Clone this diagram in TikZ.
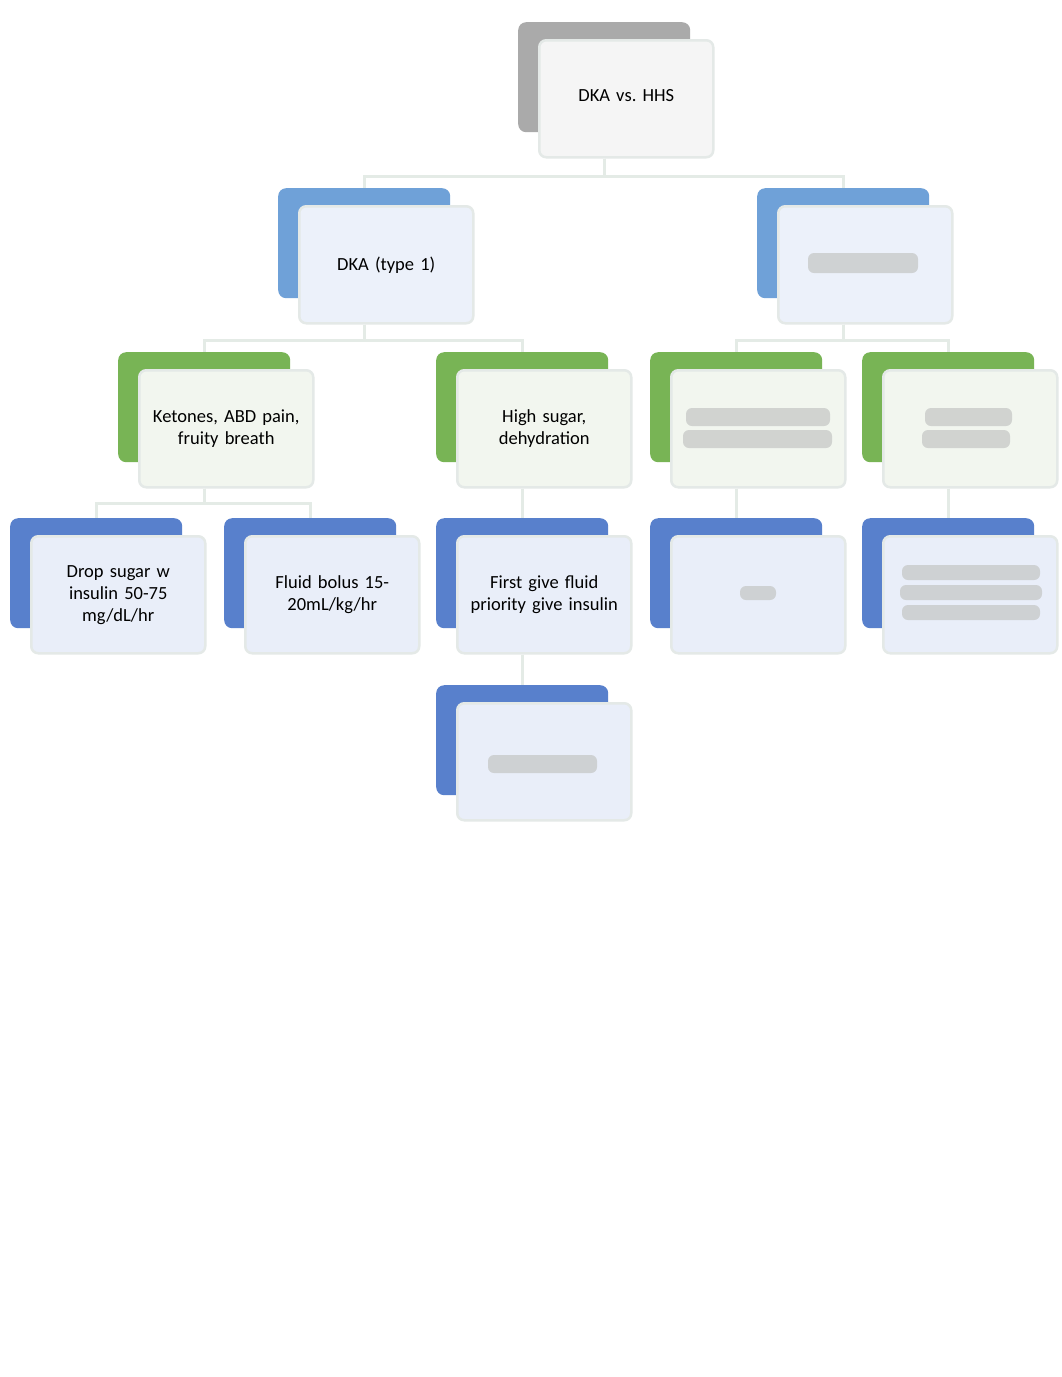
\documentclass[tikz,border=0pt]{standalone}
\usepackage{fontspec}
\setmainfont{Carlito}
\usetikzlibrary{calc}
\definecolor{greyback}{RGB}{170,170,170}
\definecolor{blueA}{RGB}{111,161,216}
\definecolor{blueB}{RGB}{88,128,204}
\definecolor{greenA}{RGB}{120,180,85}
\definecolor{fillgrey}{RGB}{245,245,245}
\definecolor{fillblueA}{RGB}{236,241,250}
\definecolor{fillgreen}{RGB}{242,246,239}
\definecolor{fillblueB}{RGB}{233,238,249}
\definecolor{boxborder}{RGB}{228,233,231}
\definecolor{conn}{RGB}{228,235,230}
\definecolor{blurtext}{RGB}{195,197,195}
\tikzset{
  backshape/.style={rounded corners=8pt, minimum width=172pt, minimum height=110pt, inner sep=0pt, anchor=north west},
  frontbox/.style={rounded corners=7pt, draw=boxborder, line width=2.5pt,
    minimum width=174pt, minimum height=117pt, text width=160pt, align=center,
    inner sep=0pt, anchor=north west, font=\fontsize{18.5}{22}\selectfont},
  conline/.style={draw=conn, line width=3pt},
  blurbar/.style={fill=blurtext, rounded corners=6pt, opacity=0.7}
}
\newcommand\mybox[6]{%
  \node[backshape, fill=#2] (#1b) at (#4,#5) {};
  \node[frontbox, fill=#3] (#1) at ($(#4,#5)+(20,17)$) {\vspace*{0pt}#6\par\vspace*{5pt}};
}
\begin{document}
\frenchspacing
\begin{tikzpicture}[x=1pt,y=-1pt]
\useasboundingbox[fill=white] (0,0) rectangle (1062,1377);
\mybox{root}{greyback}{fillgrey}{518}{22}{DKA vs. HHS\vspace*{6pt}}
\mybox{dka}{blueA}{fillblueA}{278}{188}{DKA (type 1)}
\mybox{hhs}{blueA}{fillblueA}{757}{188}{}
\mybox{ket}{greenA}{fillgreen}{118}{352}{Ketones, ABD pain,\\ fruity breath}
\mybox{high}{greenA}{fillgreen}{436}{352}{High sugar,\\ dehydration}
\mybox{gthree}{greenA}{fillgreen}{650}{352}{}
\mybox{gfour}{greenA}{fillgreen}{862}{352}{}
\mybox{drop}{blueB}{fillblueB}{10}{518}{Drop sugar w\\ insulin 50-75\\ mg/dL/hr}
\mybox{bolus}{blueB}{fillblueB}{224}{518}{Fluid bolus 15-\\20mL/kg/hr}
\mybox{first}{blueB}{fillblueB}{436}{518}{First give fluid\\ priority give insulin}
\mybox{bfour}{blueB}{fillblueB}{650}{518}{}
\mybox{bfive}{blueB}{fillblueB}{862}{518}{}
\mybox{last}{blueB}{fillblueB}{436}{685}{}
% connectors
\draw[conline] (rootb.south|-root.south) -- ++(0,18) -| (dkab.north);
\draw[conline] (rootb.south|-root.south) -- ++(0,18) -| (hhsb.north);
\draw[conline] (dkab.south|-dka.south) -- ++(0,16) -| (ketb.north);
\draw[conline] (dkab.south|-dka.south) -- ++(0,16) -| (highb.north);
\draw[conline] (hhsb.south|-hhs.south) -- ++(0,16) -| (gthreeb.north);
\draw[conline] (hhsb.south|-hhs.south) -- ++(0,16) -| (gfourb.north);
\draw[conline] (ketb.south|-ket.south) -- ++(0,15) -| (dropb.north);
\draw[conline] (ketb.south|-ket.south) -- ++(0,15) -| (bolusb.north);
\draw[conline] (highb.south|-high.south) -- (firstb.north);
\draw[conline] (gthreeb.south|-gthree.south) -- (bfourb.north);
\draw[conline] (gfourb.south|-gfour.south) -- (bfiveb.north);
\draw[conline] (firstb.south|-first.south) -- (lastb.north);
% blurred (unreadable) text
\fill[blurbar] (808,253) rectangle (918,273);
\fill[blurbar] (686,408) rectangle (830,426);
\fill[blurbar] (683,430) rectangle (832,448);
\fill[blurbar] (925,408) rectangle (1012,426);
\fill[blurbar] (922,430) rectangle (1010,448);
\fill[blurbar] (740,586) rectangle (776,600);
\fill[blurbar] (902,565) rectangle (1040,580);
\fill[blurbar] (900,585) rectangle (1042,600);
\fill[blurbar] (902,605) rectangle (1040,620);
\fill[blurbar] (488,755) rectangle (597,773);
\end{tikzpicture}
\end{document}
